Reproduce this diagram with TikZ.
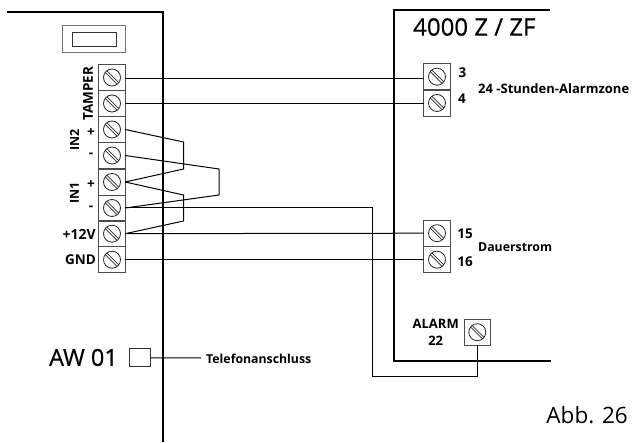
\documentclass[tikz,border=0pt]{standalone}
\usepackage{fontspec}
\setmainfont{Open Sans}
\newcommand{\pxf}[2]{\fontsize{#1}{#2}\selectfont}
\newcommand{\terminal}[3]{%
  \node[termbox] (#1) at (#2,#3) {};
  \node[screwhead] (#1s) at (#2,#3) {};
  \draw[screwslot,transform canvas={shift={(-0.8pt,-0.8pt)}}] (#1s.135) -- (#1s.315);
  \draw[screwslot,transform canvas={shift={(0.8pt,0.8pt)}}] (#1s.135) -- (#1s.315);
}
\tikzset{
  x=1pt,y=-1pt,
  frame/.style={line width=2pt,draw=black},
  wire/.style={line width=1pt,draw=black},
  termbox/.style={draw=black!70,line width=0.9pt,minimum width=26.4pt,minimum height=26pt,inner sep=0pt,outer sep=0pt},
  screwhead/.style={circle,draw=black!85,line width=0.8pt,minimum size=17pt,inner sep=0pt,outer sep=0pt},
  screwslot/.style={line width=0.7pt,draw=black!85},
  lab/.style={inner sep=0pt,font=\bfseries\pxf{13.5}{15}},
  small/.style={inner sep=0pt,font=\bfseries\pxf{12.3}{14}},
  big/.style={inner sep=0pt,font=\addfontfeature{FakeBold=0.6}\pxf{24}{28}},
}
\begin{document}
\begin{tikzpicture}
\useasboundingbox (0,0) rectangle (632,443);
% frames
\coordinate (fa) at (7,12.5); \coordinate (fb) at (163,12.5); \coordinate (fc) at (163,442.5);
\draw[frame] (fa) -- (fb) -- (fc);
\coordinate (ga) at (550,10.5); \coordinate (gb) at (393.5,10.5); \coordinate (gc) at (393.5,361); \coordinate (gd) at (551,361);
\draw[frame] (ga) -- (gb) -- (gc) -- (gd);
% display
\node[draw=black!55,line width=0.9pt,minimum width=62.6pt,minimum height=27.3pt,inner sep=0pt] (disp) at (94,39.3) {};
\node[draw=black!80,line width=0.9pt,minimum width=44pt,minimum height=14pt,inner sep=0pt] (dispin) at (94.7,39.3) {};
% terminals left
\terminal{ta}{112}{77.5}
\terminal{tb}{112}{103.5}
\terminal{tc}{112}{129.5}
\terminal{td}{112}{155.5}
\terminal{te}{112}{182}
\terminal{tf}{112}{208}
\terminal{tg}{112}{233.7}
\terminal{th}{112}{259.7}
% terminals right
\terminal{ra}{437}{76.7}
\terminal{rb}{437}{103}
\terminal{rc}{437}{233.2}
\terminal{rd}{437}{259.7}
\terminal{al}{477.3}{332.2}
% telephone socket
\node[draw=black!80,line width=0.9pt,minimum width=21pt,minimum height=17.7pt,inner sep=0pt] (aw) at (139.5,357.8) {};
% wires
\draw[wire] ([yshift=-1.5pt]ta.east) -- ([yshift=-2.3pt]ra.west);
\draw[wire] (tb.east) -- ([yshift=-0.5pt]rb.west);
\coordinate (w1) at (183.5,142); \coordinate (w2) at (183.5,169);
\draw[wire] (tc.east) -- (w1) -- (w2) -- (te.east);
\coordinate (w3) at (219,169); \coordinate (w4) at (219,195);
\draw[wire] (td.east) -- (w3) -- (w4) -- (tf.east);
\coordinate (w5) at (183.5,195); \coordinate (w6) at (183.5,221);
\draw[wire] (te.east) -- (w5) -- (w6) -- (tg.east);
\draw[wire] (tg.east) -- (rc.west);
\draw[wire] (th.east) -- (rd.west);
\coordinate (w7) at (372,208); \coordinate (w8) at (372,376.5); \coordinate (w9) at (477.3,376.5);
\draw[wire] (tf.east) -- (w7) -- (w8) -- (w9) -- (al.south);
\node[small,anchor=west] (tel) at (206,358.5) {Telefonanschluss};
\coordinate (telend) at (201,358);
\draw[wire] (aw.east) -- (telend);
% left labels
\node[lab,rotate=90] (l1) at (88,93.5) {TAMPER};
\node[lab,rotate=90,font=\bfseries\pxf{12.5}{14}] (l2) at (74.5,140) {IN2};
\node[lab,rotate=90,font=\bfseries\pxf{12.5}{14}] (l3) at (74.5,193) {IN1};
\node[lab] (l4) at (91,132) {+};
\node[lab] (l5) at (91,155) {-};
\node[lab] (l6) at (91,184) {+};
\node[lab] (l7) at (91,208) {-};
\node[lab,anchor=east,font=\bfseries\pxf{14}{16}] (l8) at (96,234) {+12V};
\node[lab,anchor=east] (l9) at (96,260) {GND};
\node[big,anchor=east,font=\addfontfeature{FakeBold=0.6}\pxf{23.5}{26}] (awt) at (118,357.5) {AW 01};
% right labels
\node[big,anchor=west] (tit) at (413,27) {4000 Z / ZF};
\node[lab] (n3) at (462.5,73) {3};
\node[lab] (n4) at (462,99) {4};
\node[small,anchor=west,font=\bfseries\pxf{13}{15}] (zone) at (478,89) {24 -Stunden-Alarmzone};
\node[lab] (n15) at (465,234) {15};
\node[lab] (n16) at (465,261.5) {16};
\node[small,anchor=west] (dau) at (478,247) {Dauerstrom};
\node[small,align=center,font=\bfseries\pxf{13}{17}] (alm) at (435.7,332.5) {ALARM\\22};
\node[inner sep=0pt,anchor=east,font=\pxf{22.5}{26}] (abb) at (628,415) {Abb. 26};
\end{tikzpicture}
\end{document}
